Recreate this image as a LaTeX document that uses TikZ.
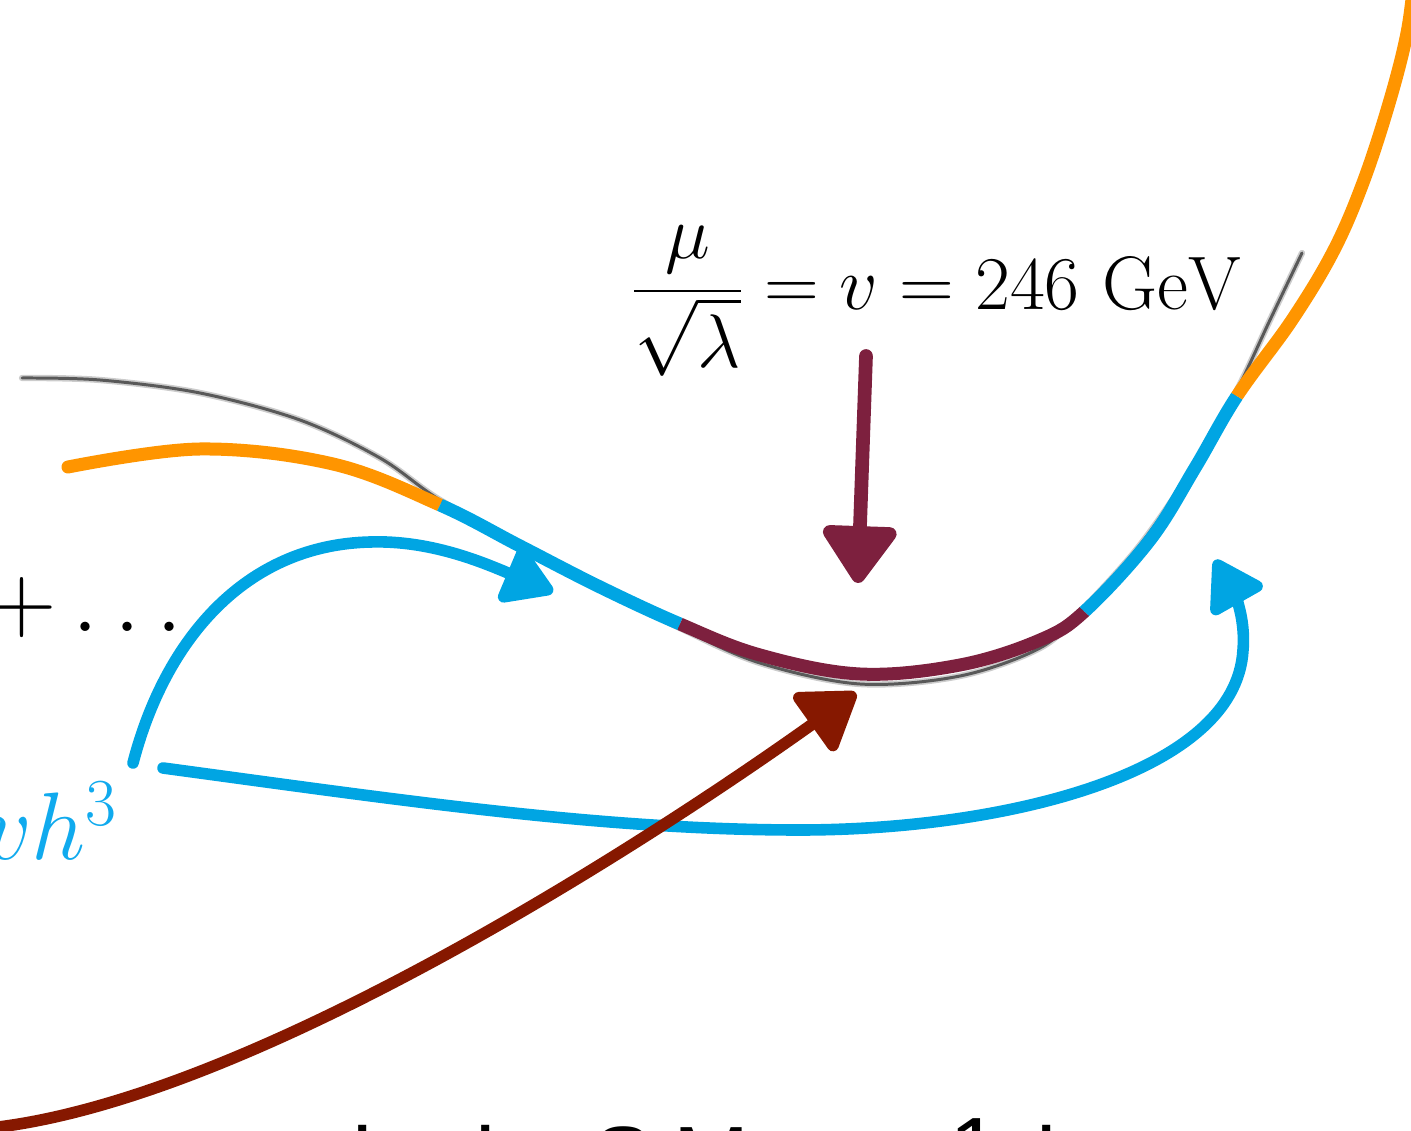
\documentclass[tikz,border=0pt]{standalone}
\usepackage{fix-cm}
\usepackage{amsmath}
\usepackage{fontspec}
\newfontfamily\helv{Liberation Sans}
\usetikzlibrary{arrows.meta}
\definecolor{cblue}{HTML}{00A5E3}
\definecolor{ctext}{HTML}{10AAEE}
\definecolor{corange}{HTML}{FF9500}
\definecolor{cmaroon}{HTML}{7D203E}
\definecolor{cdred}{HTML}{861800}
\tikzset{
  crayon/.style={line width=7.4pt, line cap=round, line join=round},
  wellcol/.style={crayon, draw=#1},
  bluearrow/.style={line width=6.6pt, line cap=round, line join=round, draw=cblue,
     -{Triangle[length=1.1cm,width=1.3cm,round]}},
  redarrow/.style={line width=6.6pt, line cap=round, line join=round, draw=cdred,
     -{Triangle[length=1.2cm,width=1.55cm,round]}},
  vevarrow/.style={line width=7.8pt, line cap=round, line join=round, draw=cmaroon,
     -{Triangle[length=1.25cm,width=1.65cm,round]}},
  bigmath/.style={inner sep=0pt, font=\fontsize{54.6}{60}\selectfont},
  vevlabel/.style={inner sep=0pt, font=\fontsize{43.2}{50}\selectfont},
  bottxt/.style={inner sep=0pt, anchor=base west, font=\helv\fontsize{52}{60}\selectfont},
}
\def\wellpath{plot[smooth, tension=0.6] coordinates {(68,467) (200,449) (333,464) (440,505) (520,546) (600,587) (680,624) (760,655) (860,674) (960,665) (1040,640) (1085,611) (1150,540) (1195,468) (1237,396) (1292,320) (1334,250) (1364,180) (1390,100) (1407,33) (1414,-20)}}
\def\greypath{plot[smooth, tension=0.55] coordinates {(22,378) (100,380) (200,393) (300,420) (380,458) (440,500) (520,543) (600,587) (680,628) (760,663) (860,684) (960,676) (1040,648) (1080,612) (1140,545) (1195,465) (1237,390) (1270,320) (1302,253)}}
\begin{document}
\begin{tikzpicture}[x=0.02cm,y=-0.02cm]
\useasboundingbox (0,0) rectangle (1411,1131);
\clip (0,0) rectangle (1411,1131);
% grey potential
\draw[black!20, line width=3.6pt, line cap=round] \greypath;
\draw[black!65, line width=1.7pt, line cap=round] \greypath;
% coloured potential
\begin{scope}
  \clip (-50,250) -- (540,305) -- (340,705) -- (-50,705) -- cycle;
  \draw[wellcol=corange] \wellpath;
\end{scope}
\begin{scope}
  \clip (540,305) -- (767,424) -- (593,824) -- (340,705) -- cycle;
  \draw[wellcol=cblue] \wellpath;
\end{scope}
\begin{scope}
  \clip (767,424) -- (935,474) -- (1235,750) -- (700,900) -- (593,824) -- cycle;
  \draw[wellcol=cmaroon] \wellpath;
\end{scope}
\begin{scope}
  \clip (935,474) -- (1085,305) -- (1385,485) -- (1235,750) -- cycle;
  \draw[wellcol=cblue] \wellpath;
\end{scope}
\begin{scope}
  \clip (1085,305) -- (1385,485) -- (1500,485) -- (1500,-60) -- (1000,-60) -- (1000,305) -- cycle;
  \draw[wellcol=corange] \wellpath;
\end{scope}
% labels
\node[vevlabel, anchor=base west] (vev) at (632,310) {$\dfrac{\mu}{\sqrt{\lambda}} = v = 246\ \mathrm{GeV}$};
\node[bigmath, anchor=base west] (dots) at (-13,632) {$+\ldots$};
\node[bigmath, anchor=base east, text=ctext] (cubic) at (118,860) {$\lambda v h^3$};
\node[bottxt] (g1) at (352,1191) {l};
\node[bottxt] (g2) at (475,1191) {l};
\node[bottxt] (g3) at (592,1190) {S};
\node[bottxt] (g4) at (673,1190) {M};
\node[bottxt] (g5) at (949,1181) {1};
\node[bottxt] (g6) at (1036,1191) {l};
% arrows
\coordinate (b1s) at (133,763);
\coordinate (b1m) at (370,542);
\coordinate (b1e) at (553,592);
\coordinate (b2s) at (163,768);
\coordinate (b2m) at (800,830);
\coordinate (b2n) at (1243,650);
\coordinate (b2e) at (1215,560);
\coordinate (r1s) at (-10,1128);
\coordinate (r1e) at (856,693);
\coordinate (m1s) at (866,356);
\coordinate (m1e) at (858,583);
\draw[bluearrow] (b1s) .. controls (165,640) and (245,545) .. (b1m)
                       .. controls (430,540) and (482,562) .. (b1e);
\draw[bluearrow] (b2s) .. controls (400,800) and (600,830) .. (b2m)
                       .. controls (1000,830) and (1236,775) .. (b2n)
                       .. controls (1246,615) and (1232,590) .. (b2e);
\draw[redarrow] (r1s) .. controls (250,1100) and (650,840) .. (r1e);
\draw[vevarrow] (m1s) -- (m1e);
\end{tikzpicture}
\end{document}
